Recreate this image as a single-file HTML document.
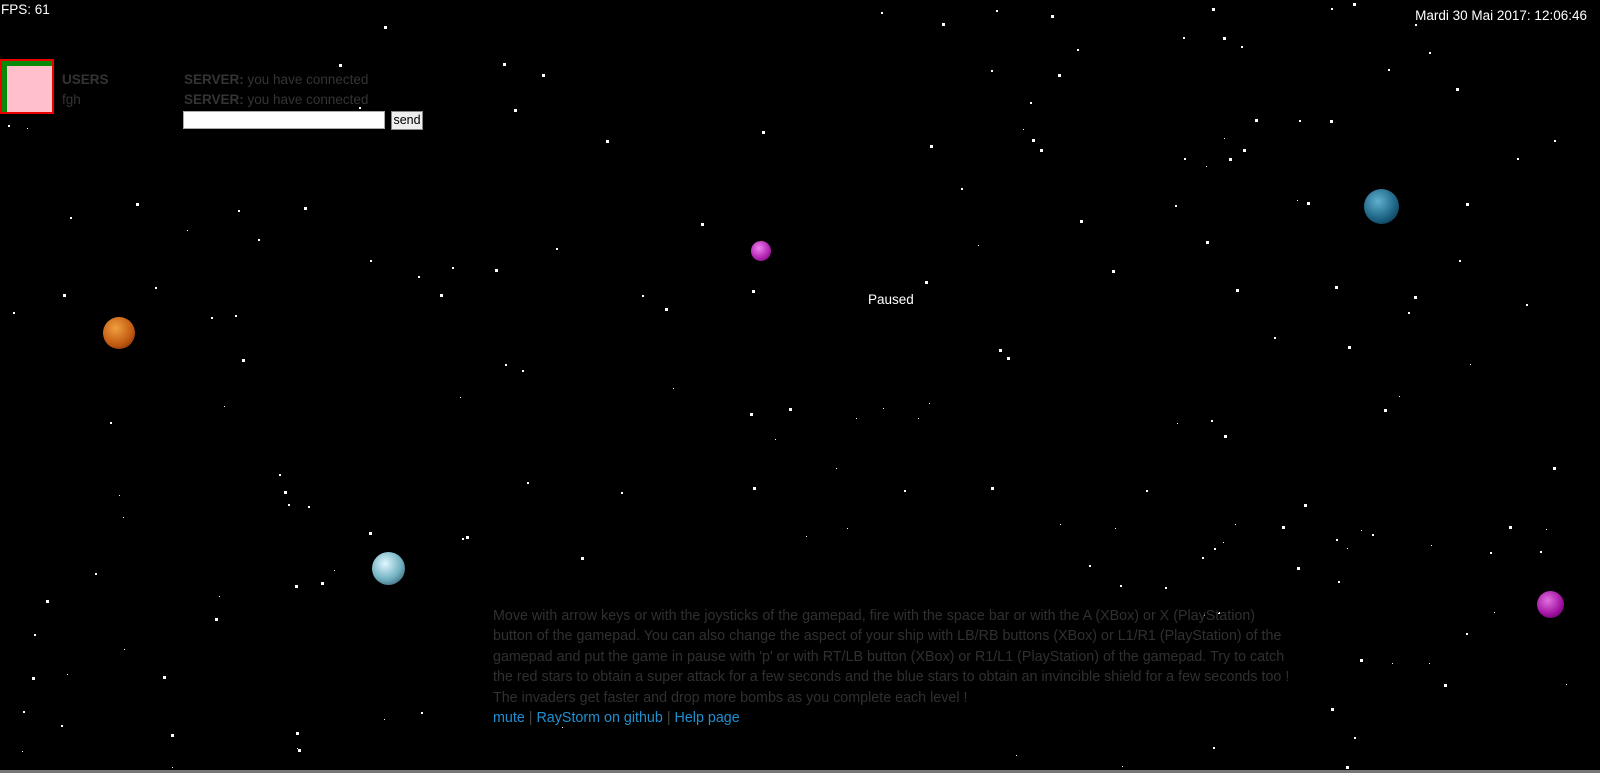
<!DOCTYPE html>
<html><head><meta charset="utf-8">
<style>
html,body{margin:0;padding:0;width:1600px;height:773px;overflow:hidden;background:#000;font-family:"Liberation Sans",Arial,sans-serif;}
#stage{position:absolute;left:0;top:0;width:1600px;height:773px;background:#000;}
.abs{position:absolute;}
#fps{left:1px;top:2px;color:#fff;font-size:13.5px;}
#date{right:13px;top:8px;color:#fff;font-size:13.5px;}
#avatar{left:2px;top:61px;width:45px;height:46px;outline:2px solid #e00;border-top:5px solid #0a8a0a;border-left:5px solid #0a8a0a;background:#ffc0cb;box-sizing:content-box;}
.dim{color:#343434;font-size:13.5px;}
#users{left:62px;top:72px;font-weight:bold;}
#fgh{left:62px;top:92px;}
#srv1{left:184px;top:72px;}
#srv2{left:184px;top:92px;}
#chat{left:183px;top:111px;width:202px;height:18px;border:1px solid #aaa;background:#fff;box-sizing:border-box;}
#send{left:391px;top:111px;width:32px;height:19px;background:#eee;border:1px solid #888;font-size:12.5px;box-sizing:border-box;text-align:center;line-height:17px;color:#000;}
#paused{left:868px;top:292px;color:#fff;font-size:13.5px;}
#help{left:493px;top:606px;white-space:nowrap;color:#303030;font-size:14.3px;line-height:20.4px;}
#help a{color:#1e90d0;text-decoration:none;}
#help .sep{color:#444;}
#bottombar{left:0;top:770px;width:1600px;height:3px;background:#777;}
.planet{position:absolute;border-radius:50%;}
.star{position:absolute;background:#fff;}
</style></head><body>
<div id="stage">
<div id="starfield"></div>

<div class="planet" style="left:103px;top:317px;width:32px;height:32px;background:radial-gradient(circle at 40% 35%,#f0a040,#c05810 60%,#602000);"></div>
<div class="planet" style="left:751px;top:241px;width:20px;height:20px;background:radial-gradient(circle at 40% 35%,#f080f0,#b020b0 60%,#500050);"></div>
<div class="planet" style="left:1364px;top:189px;width:35px;height:35px;background:radial-gradient(circle at 40% 35%,#60b0d0,#1a6080 60%,#0a2030);"></div>
<div class="planet" style="left:372px;top:552px;width:33px;height:33px;background:radial-gradient(circle at 40% 35%,#e0f8ff,#70b0c0 55%,#204050);"></div>
<div class="planet" style="left:1537px;top:591px;width:27px;height:27px;background:radial-gradient(circle at 40% 35%,#e070e0,#a010a0 60%,#400040);"></div>

<div id="fps" class="abs">FPS: 61</div>
<div id="date" class="abs">Mardi 30 Mai 2017: 12:06:46</div>
<div id="avatar" class="abs"></div>
<div id="users" class="abs dim">USERS</div>
<div id="fgh" class="abs dim">fgh</div>
<div id="srv1" class="abs dim"><b>SERVER:</b> you have connected</div>
<div id="srv2" class="abs dim"><b>SERVER:</b> you have connected</div>
<div id="chat" class="abs"></div>
<div id="send" class="abs">send</div>
<div id="paused" class="abs">Paused</div>
<div id="help" class="abs">Move with arrow keys or with the joysticks of the gamepad, fire with the space bar or with the A (XBox) or X (PlayStation)<br>button of the gamepad. You can also change the aspect of your ship with LB/RB buttons (XBox) or L1/R1 (PlayStation) of the<br>gamepad and put the game in pause with 'p' or with RT/LB button (XBox) or R1/L1 (PlayStation) of the gamepad. Try to catch<br>the red stars to obtain a super attack for a few seconds and the blue stars to obtain an invincible shield for a few seconds too !<br>The invaders get faster and drop more bombs as you complete each level !<br><a href="#">mute</a> <span class="sep">|</span> <a href="#">RayStorm on github</a> <span class="sep">|</span> <a href="#">Help page</a></div>
<div id="bottombar" class="abs"></div>
</div>
<script>
var starXY=[[376,25],[332,63],[493,62],[504,107],[352,105],[8,123],[26,125],[133,199],[69,213],[233,206],[298,203],[253,234],[183,225],[152,281],[62,288],[13,306],[207,311],[230,309],[237,352],[108,414],[220,398],[274,465],[278,481],[302,496],[282,494],[117,485],[121,507],[362,522],[457,525],[453,527],[289,574],[315,571],[327,559],[45,588],[93,562],[215,584],[211,606],[33,622],[160,663],[31,664],[66,661],[122,636],[290,718],[168,720],[60,711],[22,736],[292,734],[531,73],[594,137],[545,243],[485,264],[443,262],[431,288],[410,271],[363,255],[451,389],[512,363],[495,357],[517,473],[570,546],[609,482],[629,289],[652,302],[687,219],[737,284],[747,128],[660,380],[735,405],[774,400],[738,477],[760,430],[839,410],[900,410],[820,459],[866,400],[886,480],[790,525],[830,518],[924,23],[972,69],[1012,136],[1003,126],[912,142],[942,184],[959,240],[1020,146],[1037,73],[1056,48],[1090,265],[907,275],[979,342],[987,350],[911,395],[972,477],[1039,514],[1093,518],[1068,554],[1124,480],[1200,426],[1187,412],[1154,415],[1178,546],[1190,537],[1211,514],[1199,531],[1257,516],[1278,494],[1334,520],[1310,528],[1312,570],[1321,537],[1345,524],[1403,534],[1333,646],[1365,650],[1401,650],[1535,671],[1516,519],[1479,516],[1465,600],[1437,621],[1416,671],[1305,694],[1327,723],[1100,751],[996,740],[1189,732],[1320,751],[1230,117],[1274,118],[1304,118],[1219,146],[1205,155],[1161,155],[1200,135],[1152,201],[1272,196],[1281,198],[1387,24],[1427,86],[1401,51],[1361,68],[1217,45],[1199,36],[1188,8],[1305,8],[1326,3],[1487,155],[1524,137],[1437,199],[1309,280],[1386,290],[1380,306],[1249,330],[1322,339],[1357,401],[1496,298],[1523,458],[1212,283],[1182,236],[1059,216],[1182,163],[1030,15],[976,10],[864,12],[1010,100],[1160,36],[1430,255],[1441,357],[1510,540],[1461,541],[1372,388],[1272,556],[1180,603],[1194,600],[1098,574],[1142,575],[413,698],[23,697],[551,713],[376,705],[169,752],[291,733]];
var starSize=[3,3,3,3,2,2,1,3,2,2,3,2,1,2,3,2,2,2,3,2,1,2,3,2,2,1,1,3,3,2,3,3,1,3,2,1,3,2,3,3,1,1,3,3,2,1,3,3,3,2,3,2,3,2,2,1,2,2,2,3,2,2,3,3,3,3,1,3,3,3,1,1,1,1,1,2,1,1,3,2,3,1,3,2,1,3,3,2,3,3,3,3,1,3,1,1,2,2,3,2,1,2,2,1,1,3,3,1,2,2,1,2,1,3,1,1,1,1,3,1,2,3,3,2,1,1,2,3,3,2,3,3,3,2,1,2,1,3,2,3,2,2,2,3,3,2,3,2,2,3,3,3,2,2,3,3,2,3,3,3,3,1,3,2,2,2,2,2,1,2,2,1,3,1,2,2,2,2,2,1,1,1,1,1,2,3,3,2,1,1,3];
var scale=1.02;
var field=document.getElementById('starfield');
for(var i=0;i<starXY.length;i++){
  var s=document.createElement('div');
  s.className='star';
  
  
  var sz=starSize[i%starSize.length]||2;
  s.style.left=Math.round(starXY[i][0]*scale)+'px';
  s.style.top=Math.round(starXY[i][1]*scale)+'px';
  s.style.width=sz+'px';s.style.height=sz+'px';
  field.appendChild(s);
}
</script>
</body></html>
